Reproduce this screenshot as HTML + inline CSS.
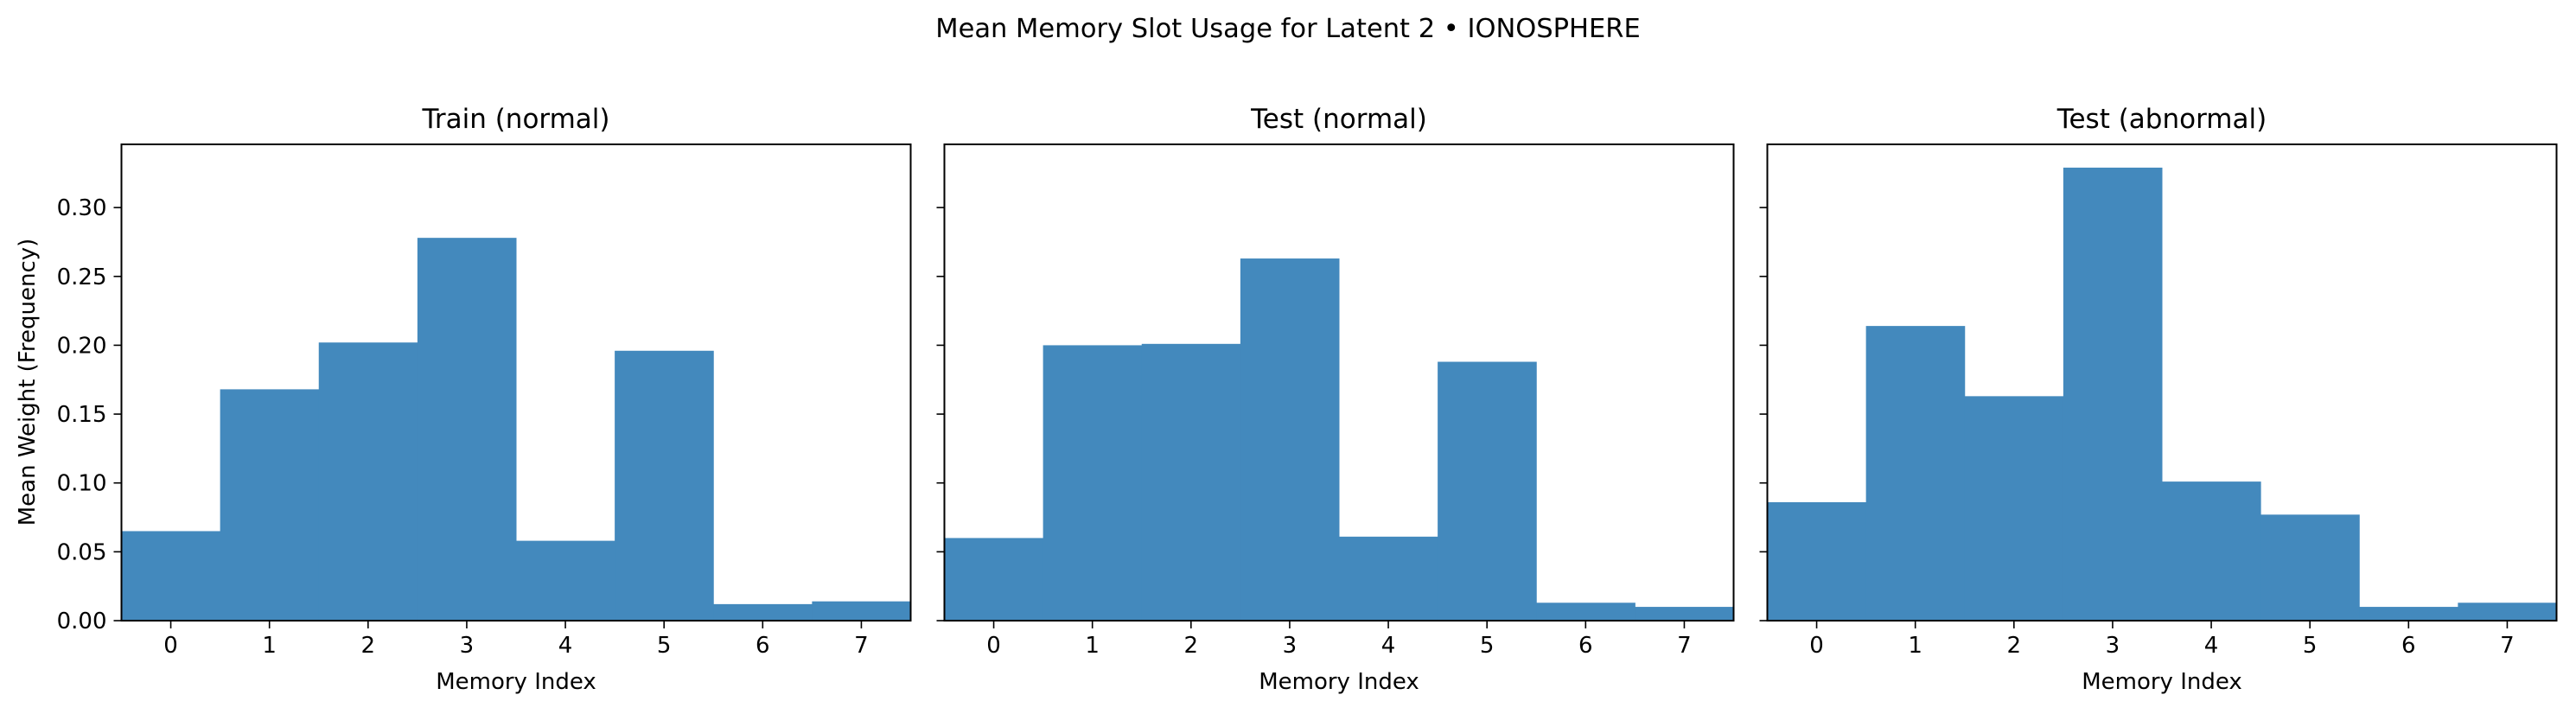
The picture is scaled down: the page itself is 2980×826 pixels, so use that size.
<!DOCTYPE html>
<html><head><meta charset="utf-8"><style>
html,body{margin:0;padding:0;background:#fff}
svg{display:block}
text{font-family:"DejaVu Sans","Liberation Sans",sans-serif;fill:#000}
</style></head><body>
<svg id="chart" width="2980" height="826" viewBox="0 0 2980 826" xmlns="http://www.w3.org/2000/svg">
<text x="1490" y="43" font-size="30.5" text-anchor="middle">Mean Memory Slot Usage for Latent 2 • IONOSPHERE</text>
<g id="plots"></g>
</svg>
<script>
const categories = [0,1,2,3,4,5,6,7];
const panelTitles = ["Train (normal)","Test (normal)","Test (abnormal)"];
const trainNormal = [0.065,0.168,0.202,0.278,0.058,0.196,0.012,0.014];
const testNormal = [0.060,0.200,0.201,0.263,0.061,0.188,0.013,0.010];
const testAbnormal = [0.086,0.214,0.163,0.329,0.101,0.077,0.010,0.013];
const yTicks = [0,0.05,0.10,0.15,0.20,0.25,0.30];
const yTickLabels = ["0.00","0.05","0.10","0.15","0.20","0.25","0.30"];
const yMax = 0.3459;

const series = [trainNormal,testNormal,testAbnormal];
const lefts = [140.5,1092.5,2044.5];
const plotW = 913, plotTop = 167, plotBottom = 718;
const NS = "http://www.w3.org/2000/svg";
const root = document.getElementById('plots');
function mk(tag, attrs, parent){const e=document.createElementNS(NS,tag);for(const k in attrs)e.setAttribute(k,attrs[k]);(parent||root).appendChild(e);return e;}

series.forEach((vals,p)=>{
  const L = lefts[p];
  const xs = v => L + (v + 0.5) / 8 * plotW;
  const ys = v => plotBottom - v / yMax * (plotBottom - plotTop);
  const g = mk('g',{});
  
  
  vals.forEach((v,i)=>{
    const r = mk('rect',{x:xs(categories[i]-0.5),y:ys(v),width:xs(categories[i]+0.5)-xs(categories[i]-0.5)+0.5,height:plotBottom-ys(v),fill:'#4389bd'},g);
    
    
  });
  const f = mk('rect',{x:L,y:plotTop,width:plotW,height:plotBottom-plotTop,fill:'none',stroke:'#000','stroke-width':2},g);
  
  
  const t = mk('text',{x:L+plotW/2,y:148,'font-size':31,'text-anchor':'middle'},g);
  t.textContent = panelTitles[p];
  
  
  categories.forEach(c=>{
    mk('line',{x1:xs(c),x2:xs(c),y1:plotBottom,y2:plotBottom+9,stroke:'#000','stroke-width':1.6},g);
    const tl = mk('text',{x:xs(c),y:plotBottom+37,'font-size':26,'text-anchor':'middle'},g);
    tl.textContent = c;
    
    
  });
  yTicks.forEach((v,i)=>{
    mk('line',{x1:L-9,x2:L,y1:ys(v),y2:ys(v),stroke:'#000','stroke-width':1.6},g);
    if(p===0){
      const yl = mk('text',{x:L-17,y:ys(v)+9,'font-size':26,'text-anchor':'end'},g);
      yl.textContent = yTickLabels[i];
      
      
    }
  });
  const xl = mk('text',{x:L+plotW/2,y:797,'font-size':26,'text-anchor':'middle'},g);
  xl.textContent = 'Memory Index';
  
  
});
const yt = mk('text',{x:0,y:0,'font-size':26,'text-anchor':'middle',transform:'translate(40,442) rotate(-90)'});
yt.textContent = 'Mean Weight (Frequency)';


</script>
</body></html>
